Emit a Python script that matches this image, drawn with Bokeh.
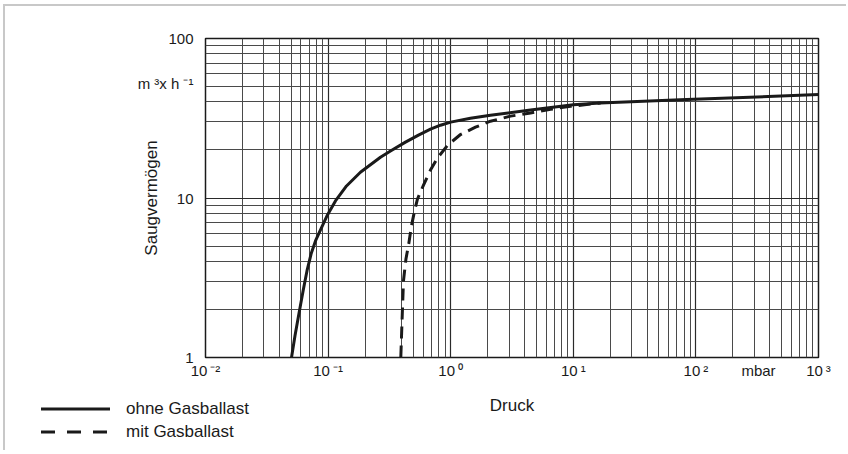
from bokeh.plotting import figure
from bokeh.layouts import column
from bokeh.models import Range1d, FixedTicker, Div
from bokeh.embed import file_html
from bokeh.resources import INLINE

# ---- data ----
ohne_p = [0.0503, 0.0537, 0.0580, 0.0630, 0.0673, 0.0727, 0.0789, 0.0867, 0.0988, 0.1148, 0.1413, 0.1835,
          0.2673, 0.3228, 0.4276, 0.546, 0.684, 0.826, 1.0, 1.449, 2.11, 4.48, 10.0, 16.6, 84.0, 1000.0]
ohne_s = [1.0, 1.37, 1.91, 2.70, 3.50, 4.47, 5.38, 6.31, 7.83, 9.58, 11.9, 14.5,
          18.0, 19.7, 22.4, 24.8, 27.0, 28.6, 29.9, 31.6, 33.0, 35.6, 38.4, 39.4, 41.4, 44.5]

mit_p = [0.3917, 0.401, 0.412, 0.4315, 0.455, 0.4786, 0.507, 0.536, 0.600, 0.684, 0.780, 0.942,
         1.202, 1.593, 2.11, 3.08, 4.48, 6.52, 9.49, 16.7]
mit_s = [1.0, 1.70, 3.03, 4.15, 5.16, 6.68, 8.29, 9.86, 12.05, 14.96, 17.8, 21.4,
         25.0, 27.8, 30.3, 32.6, 34.1, 36.0, 37.6, 39.4]

series_names = ["ohne Gasballast", "mit Gasballast"]

x_ticks = [0.01, 0.1, 1, 10, 100, 1000]
x_tick_labels = ["10\u2009\u207b\u00b2", "10\u2009\u207b\u00b9", "10\u2009\u2070",
                 "10\u2009\u00b9", "10\u2009\u00b2", "10\u2009\u00b3"]
y_ticks = [1, 10, 100]
y_tick_labels = ["1", "10", "100"]
x_unit, x_unit_at = "mbar", 324
y_unit, y_unit_at = "m \u00b3x h \u207b\u00b9", 52

x_minor = [m * d for d in [0.01, 0.1, 1, 10, 100] for m in range(2, 10)]
y_minor = [m * d for d in [1, 10] for m in range(2, 10)]

FONT = "Liberation Sans"
INK = "#1a1a1a"
DASH = "12 7"
LEGEND_DASH = "14 12"

p = figure(width=843, height=446, x_axis_type="log", y_axis_type="log",
           x_range=Range1d(0.01, 1000), y_range=Range1d(1, 100),
           output_backend="svg", toolbar_location=None,
           min_border_left=200, min_border_right=30, min_border_top=32, min_border_bottom=95)
p.styles = {"margin-left": "3px", "margin-top": "4px",
            "border-left": "2px solid #c8c8c8", "border-top": "2px solid #c8c8c8"}

p.outline_line_color = INK
p.outline_line_width = 1.5

# axes (unit names sit in the axis label rows, as in the original drawing)
xa = p.xaxis[0]
xa.ticker = FixedTicker(ticks=x_ticks + [x_unit_at])
xa.major_label_overrides = dict(zip(x_ticks + [x_unit_at], x_tick_labels + [x_unit]))
xa.axis_label = "Druck"
ya = p.yaxis[0]
ya.ticker = FixedTicker(ticks=y_ticks + [y_unit_at])
ya.major_label_overrides = dict(zip(y_ticks + [y_unit_at], y_tick_labels + [y_unit]))
ya.axis_label = "Saugvermögen"

for ax in (xa, ya):
    ax.axis_line_color = None
    ax.major_tick_line_color = None
    ax.minor_tick_line_color = None
    ax.major_tick_out = 0
    ax.major_tick_in = 0
    ax.minor_tick_out = 0
    ax.major_label_text_font = FONT
    ax.major_label_text_font_size = "15px"
    ax.major_label_text_color = INK
    ax.axis_label_text_font = FONT
    ax.axis_label_text_font_size = "17px"
    ax.axis_label_text_font_style = "normal"
    ax.axis_label_text_color = INK
xa.major_label_standoff = 4
xa.axis_label_standoff = 14
ya.major_label_standoff = 12
ya.axis_label_standoff = -26

# grid
p.xgrid[0].ticker = FixedTicker(ticks=x_ticks, minor_ticks=x_minor)
p.ygrid[0].ticker = FixedTicker(ticks=y_ticks, minor_ticks=y_minor)
for g in (p.xgrid[0], p.ygrid[0]):
    g.grid_line_color = "#2a2a2a"
    g.grid_line_width = 1.2
    g.minor_grid_line_color = "#4a4a4a"
    g.minor_grid_line_width = 1

# curves
p.line(ohne_p, ohne_s, line_color=INK, line_width=3)
p.line(mit_p, mit_s, line_color=INK, line_width=3, line_dash=DASH)

# legend below the chart, bottom-left (as in the original drawing)
legend_html = f"""
<div style="position:relative;width:260px;height:48px;font-family:'{FONT}';font-size:17px;color:{INK};">
  <svg style="position:absolute;left:41px;top:0px" width="70" height="46">
    <line x1="0" y1="10" x2="69" y2="10" stroke="{INK}" stroke-width="3"/>
    <line x1="0" y1="33" x2="69" y2="33" stroke="{INK}" stroke-width="3" stroke-dasharray="{LEGEND_DASH}"/>
  </svg>
  <span style="position:absolute;left:126px;top:0px;line-height:20px;white-space:nowrap">{series_names[0]}</span>
  <span style="position:absolute;left:126px;top:23px;line-height:20px;white-space:nowrap">{series_names[1]}</span>
</div>
"""
leg = Div(text=legend_html, width=260, height=48, margin=0)
leg.styles = {"margin-top": "-51px", "margin-left": "0px"}

layout = column(p, leg, spacing=0)
open("out.html", "w").write(file_html(layout, INLINE))
